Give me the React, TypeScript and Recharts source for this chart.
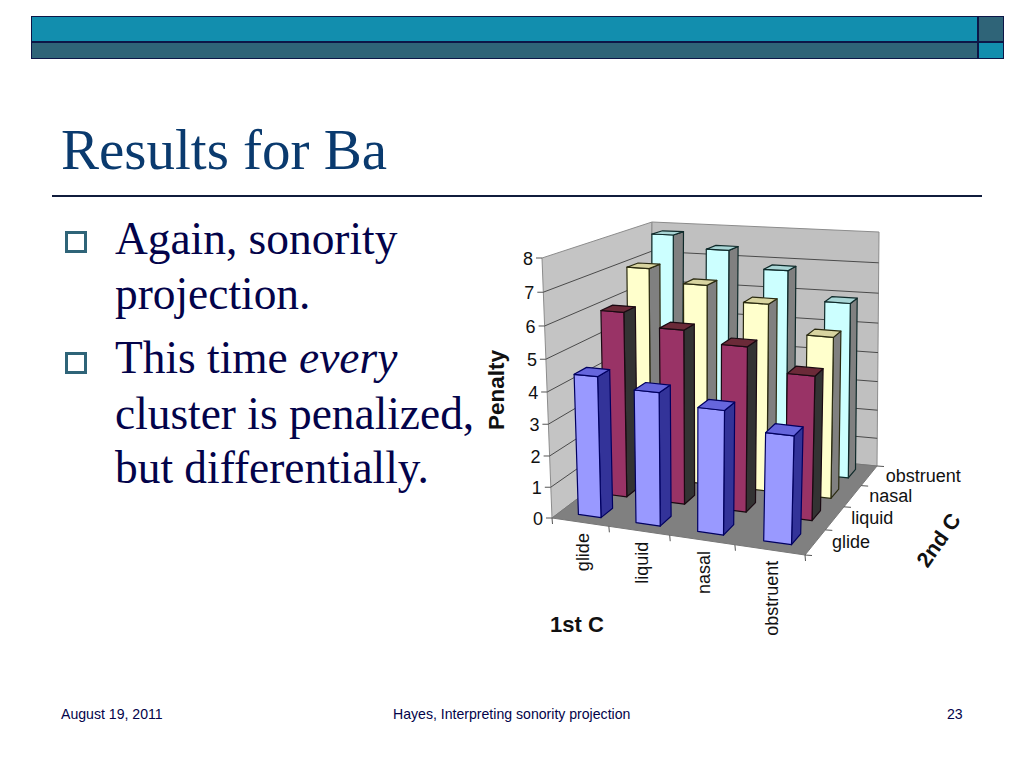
/**
 * Results for Ba slide: 3D column chart of penalties by 1st C and 2nd C
 */

import React from 'react';
import { BarChart, Bar, XAxis, YAxis } from 'recharts';

const firstC = ['glide', 'liquid', 'nasal', 'obstruent'];
const secondC = ['glide', 'liquid', 'nasal', 'obstruent'];
const yTicks = [0, 1, 2, 3, 4, 5, 6, 7, 8];

const glideValues = [4.46, 4.17, 3.85, 3.33];
const liquidValues = [5.99, 5.59, 5.25, 4.55];
const nasalValues = [7.0, 6.59, 6.13, 5.25];
const obstruentValues = [7.79, 7.38, 6.83, 5.9];

const tableData = firstC.map((name, i) => ({
    name,
    glide: glideValues[i],
    liquid: liquidValues[i],
    nasal: nasalValues[i],
    obstruent: obstruentValues[i],
}));

// drawn back to front
const rows = [
    { key: 'obstruent', depth: 3, front: '#CCFFFF', side: '#808080', top: '#A9D6D6', edge: '#0f2a2a' },
    { key: 'nasal', depth: 2, front: '#FFFFCC', side: '#808080', top: '#D8D4A0', edge: '#2a2a10' },
    { key: 'liquid', depth: 1, front: '#993366', side: '#333333', top: '#6B2A38', edge: '#1a0a12' },
    { key: 'glide', depth: 0, front: '#9999FF', side: '#333399', top: '#6666DD', edge: '#000060' },
];

const FONT = '"Liberation Sans", Arial, sans-serif';
const SERIF = '"Liberation Serif", "Times New Roman", serif';
const NAVY = '#03034a';

const PLOT_TOP = 258;
const PLOT_BOTTOM = 518;
const PLOT_H = PLOT_BOTTOM - PLOT_TOP;
const X_AXIS_H = 30;

// floor corners on the page
const FL = [552, 518];
const FR = [805, 555];
const BR = [877, 466];
const BL = [650, 444];

// perspective map of the floor, u along 1st C, v along 2nd C
const sx = FL[0] - FR[0] + BR[0] - BL[0];
const sy = FL[1] - FR[1] + BR[1] - BL[1];
const dx1 = FR[0] - BR[0];
const dx2 = BL[0] - BR[0];
const dy1 = FR[1] - BR[1];
const dy2 = BL[1] - BR[1];
const det = dx1 * dy2 - dx2 * dy1;
const g = (sx * dy2 - dx2 * sy) / det;
const h = (dx1 * sy - sx * dy1) / det;

function floorPoint(u: number, v: number) {
    const w = g * u + h * v + 1;
    const px = (FR[0] - FL[0] + g * FR[0]) * u + (BL[0] - FL[0] + h * BL[0]) * v + FL[0];
    const py = (FR[1] - FL[1] + g * FR[1]) * u + (BL[1] - FL[1] + h * BL[1]) * v + FL[1];
    return [px / w, py / w];
}

// t is the fraction of the full axis height, units get wider towards the top
function point3d(u: number, v: number, t: number) {
    const [px, py] = floorPoint(u, v);
    const front = 260 + 15 * u;
    const back = 222 + 12 * u;
    const fullH = front + (back - front) * v;
    const tiltFront = -10 + 18 * u;
    const tiltBack = 2;
    const tilt = tiltFront + (tiltBack - tiltFront) * v;
    const eased = t * (1 - 0.0615 * (1 - t));
    return [px + tilt * eased, py - fullH * eased];
}

const toPoints = (pts: number[][], dx = 0) => pts.map((p) => `${(p[0] + dx).toFixed(1)},${p[1].toFixed(1)}`).join(' ');

const HALF_U = 0.05;
const HALF_V = 0.055;
const BAR_SHIFT = 2;

function makeBarShape(row: (typeof rows)[number]) {
    return function BarShape(props: any) {
        const { index, height } = props;
        const t = height / PLOT_H;
        const u = (index + 0.5) / 4;
        const v = (row.depth + 0.5) / 4;
        const u0 = u - HALF_U;
        const u1 = u + HALF_U;
        const v0 = v - HALF_V;
        const v1 = v + HALF_V;
        const a = point3d(u0, v0, 0);
        const b = point3d(u1, v0, 0);
        const c = point3d(u1, v1, 0);
        const at = point3d(u0, v0, t);
        const bt = point3d(u1, v0, t);
        const ct = point3d(u1, v1, t);
        const dt = point3d(u0, v1, t);
        const common = { stroke: row.edge, strokeWidth: 1.2, strokeLinejoin: 'round' as const };
        return (
            <g>
                <polygon points={toPoints([b, c, ct, bt], BAR_SHIFT)} fill={row.side} {...common} />
                <polygon points={toPoints([a, b, bt, at], BAR_SHIFT)} fill={row.front} {...common} />
                <polygon points={toPoints([at, bt, ct, dt], BAR_SHIFT)} fill={row.top} {...common} />
            </g>
        );
    };
}

function WallsAndFloor() {
    const leftWall = [point3d(0, 0, 0), point3d(0, 1, 0), point3d(0, 1, 1), point3d(0, 0, 1)];
    const backWall = [point3d(0, 1, 0), point3d(1, 1, 0), point3d(1, 1, 1), point3d(0, 1, 1)];
    const floor = [point3d(0, 0, 0), point3d(1, 0, 0), point3d(1, 1, 0), point3d(0, 1, 0)];
    return (
        <g>
            <polygon points={toPoints(leftWall)} fill="#C4C4C4" stroke="#8c8c8c" />
            <polygon points={toPoints(backWall)} fill="#C0C0C0" stroke="#8c8c8c" />
            <polygon points={toPoints(floor)} fill="#808080" stroke="#777777" />
            {yTicks
                .filter((tick) => tick > 0 && tick < 8)
                .map((tick) => {
                    const t = tick / 8;
                    return (
                        <polyline
                            key={tick}
                            points={toPoints([point3d(0, 0, t), point3d(0, 1, t), point3d(1, 1, t)])}
                            fill="none"
                            stroke="#4a4a4a"
                            strokeWidth={1}
                        />
                    );
                })}
            {/* ticks along the front and side edges of the floor */}
            {[0, 1, 2, 3, 4].map((k) => {
                const p = floorPoint(k / 4, 0);
                return <line key={`f${k}`} x1={p[0]} y1={p[1]} x2={p[0] + 0.5} y2={p[1] + 6} stroke="#555555" />;
            })}
            {[0, 1, 2, 3, 4].map((k) => {
                const p = floorPoint(1, k / 4);
                return <line key={`s${k}`} x1={p[0]} y1={p[1]} x2={p[0] + 7} y2={p[1] + 0.5} stroke="#555555" />;
            })}
            {secondC.map((name, j) => {
                const p = floorPoint(1, (j + 0.5) / 4);
                return (
                    <text key={name} x={p[0] + 16.5} y={p[1] + 6} fontFamily={FONT} fontSize={18} fill="#111111">
                        {name}
                    </text>
                );
            })}
            <text
                x={498}
                y={390}
                transform="rotate(-90 498 390)"
                textAnchor="middle"
                dominantBaseline="middle"
                fontFamily={FONT}
                fontWeight="bold"
                fontSize={22.5}
                fill="#111111"
            >
                Penalty
            </text>
            <text x={550} y={632} fontFamily={FONT} fontWeight="bold" fontSize={22} fill="#111111">
                1st C
            </text>
            <text
                x={940}
                y={541}
                transform="rotate(-55 940 541)"
                textAnchor="middle"
                dominantBaseline="middle"
                fontFamily={FONT}
                fontWeight="bold"
                fontSize={21.5}
                fill="#111111"
            >
                2nd C
            </text>
        </g>
    );
}

function PenaltyTick(props: any) {
    const { payload } = props;
    const edge = point3d(0, 0, payload.value / 8);
    return (
        <g>
            <line x1={edge[0] - 6} y1={edge[1]} x2={edge[0]} y2={edge[1]} stroke="#555555" />
            <text x={edge[0] - 9} y={edge[1] + 7} textAnchor="end" fontFamily={FONT} fontSize={18} fill="#111111">
                {payload.value}
            </text>
        </g>
    );
}

function FirstCTick(props: any) {
    const { index, payload } = props;
    const p = floorPoint((index + 0.5) / 4, 0);
    const tx = p[0] + 4;
    const ty = p[1] + 11;
    return (
        <text
            x={tx}
            y={ty}
            transform={`rotate(-90 ${tx} ${ty})`}
            textAnchor="end"
            dominantBaseline="middle"
            fontFamily={FONT}
            fontSize={18}
            fill="#111111"
        >
            {payload.value}
        </text>
    );
}

const slideText: React.CSSProperties = { position: 'absolute', whiteSpace: 'nowrap', margin: 0 };

const bodyLines = [
    { top: 213, content: 'Again, sonority' },
    { top: 268, content: 'projection.' },
    { top: 332, content: <>This time <i>every</i></> },
    { top: 388, content: 'cluster is penalized,' },
    { top: 442, content: 'but differentially.' },
];

export default function App() {
    return (
        <div style={{ position: 'absolute', left: 0, top: 0, width: 1024, height: 768, background: '#fff', overflow: 'hidden' }}>
            {/* top banner */}
            <div style={{ position: 'absolute', left: 31, top: 16, width: 947, height: 26, background: '#128EAE', border: '1px solid #0d1647', boxSizing: 'border-box' }} />
            <div style={{ position: 'absolute', left: 31, top: 42, width: 947, height: 17, background: '#2F6478', border: '1px solid #0d1647', boxSizing: 'border-box' }} />
            <div style={{ position: 'absolute', left: 978, top: 16, width: 26, height: 26, background: '#2F6478', border: '1px solid #0d1647', boxSizing: 'border-box' }} />
            <div style={{ position: 'absolute', left: 978, top: 42, width: 26, height: 17, background: '#128EAE', border: '1px solid #0d1647', boxSizing: 'border-box' }} />

            <div style={{ ...slideText, left: 61, top: 120, fontFamily: SERIF, fontSize: 57, lineHeight: '60px', color: '#0A3A6E' }}>
                Results for Ba
            </div>
            <div style={{ position: 'absolute', left: 52, top: 195, width: 930, height: 2, background: '#101c3c' }} />

            {[231, 352].map((top) => (
                <div key={top} style={{ position: 'absolute', left: 65, top, width: 22, height: 22, border: '3px solid #2F6478', boxSizing: 'border-box' }} />
            ))}
            {bodyLines.map((line) => (
                <div key={line.top} style={{ ...slideText, left: 115, top: line.top, fontFamily: SERIF, fontSize: 45.4, lineHeight: '52px', color: NAVY }}>
                    {line.content}
                </div>
            ))}

            <div style={{ ...slideText, left: 61, top: 706, fontFamily: FONT, fontSize: 14.1, color: NAVY }}>August 19, 2011</div>
            <div style={{ ...slideText, left: 393, top: 706, fontFamily: FONT, fontSize: 14.1, color: NAVY }}>Hayes, Interpreting sonority projection</div>
            <div style={{ ...slideText, left: 947, top: 706, fontFamily: FONT, fontSize: 14.1, color: NAVY }}>23</div>

            <div style={{ position: 'absolute', left: 0, top: 0 }}>
                <BarChart
                    width={1024}
                    height={768}
                    data={tableData}
                    margin={{ top: PLOT_TOP, bottom: 768 - PLOT_BOTTOM - X_AXIS_H, left: 0, right: 0 }}
                >
                    <WallsAndFloor />
                    <XAxis dataKey="name" height={X_AXIS_H} axisLine={false} tickLine={false} tick={<FirstCTick />} interval={0} />
                    <YAxis width={540} domain={[0, 8]} ticks={yTicks} axisLine={false} tickLine={false} tick={<PenaltyTick />} interval={0} />
                    {rows.map((row) => (
                        <Bar key={row.key} dataKey={row.key} isAnimationActive={false} shape={makeBarShape(row)} />
                    ))}
                </BarChart>
            </div>
        </div>
    );
}
